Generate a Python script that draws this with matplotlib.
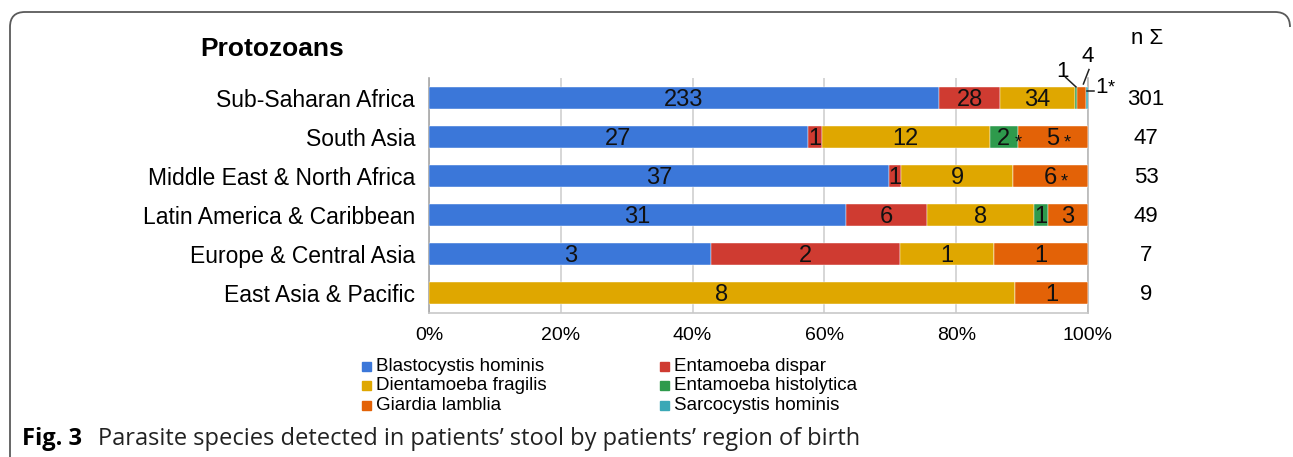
import matplotlib
matplotlib.use("Agg")
import matplotlib.pyplot as plt
import numpy as np
from matplotlib.patches import Rectangle
from matplotlib.path import Path
from matplotlib.patches import PathPatch

plt.rcParams['font.family'] = ['Liberation Sans', 'DejaVu Sans']

regions = ["Sub-Saharan Africa", "South Asia", "Middle East & North Africa",
           "Latin America & Caribbean", "Europe & Central Asia", "East Asia & Pacific"]
species = ["Blastocystis hominis", "Entamoeba dispar", "Dientamoeba fragilis",
           "Entamoeba histolytica", "Giardia lamblia", "Sarcocystis hominis"]
colors = ["#3b77d9", "#cf3b31", "#dfa700", "#2e9a4c", "#e36207", "#3aa8b6"]

blastocystis = [233, 27, 37, 31, 3, 0]
dispar = [28, 1, 1, 6, 2, 0]
fragilis = [34, 12, 9, 8, 1, 8]
histolytica = [1, 2, 0, 1, 0, 0]
giardia = [4, 5, 6, 3, 1, 1]
sarcocystis = [1, 0, 0, 0, 0, 0]
totals = [301, 47, 53, 49, 7, 9]

# which segment labels carry an asterisk (region index, series index)
starred = [(1, 3), (1, 4), (2, 4), (0, 5)]
# segments labelled outside the bar (Sub-Saharan small ones)
outside = [(0, 3), (0, 4), (0, 5)]

xticks = [0, 20, 40, 60, 80, 100]
xticklabels = ["0%", "20%", "40%", "60%", "80%", "100%"]

W, H = 1293, 457
fig = plt.figure(figsize=(W / 100, H / 100), dpi=100)

# overlay for frame, title, legend, caption (pixel coordinates)
ov = fig.add_axes([0, 0, 1, 1], zorder=0)
ov.set_xlim(0, W)
ov.set_ylim(H, 0)
ov.axis("off")

# rounded frame
r = 15
verts = [(10, H + 2), (10, 12 + r), (10, 12), (10 + r, 12), (W - 3 - r, 12),
         (W - 3, 12), (W - 3, 12 + r)]
codes = [Path.MOVETO, Path.LINETO, Path.CURVE3, Path.CURVE3, Path.LINETO,
         Path.CURVE3, Path.CURVE3]
ov.add_patch(PathPatch(Path(verts, codes), fill=False, edgecolor="#5a5a5a", lw=1.3))

series = [blastocystis, dispar, fragilis, histolytica, giardia, sarcocystis]
data = np.array(series, dtype=float)
tot = np.array(totals, dtype=float)
pct = data / tot * 100

ax = fig.add_axes([429 / W, 1 - 313 / H, (1088 - 429) / W, (313 - 78) / H], zorder=2)
ax.patch.set_alpha(0)
y = np.arange(len(regions))
left = np.zeros(len(regions))
for s in range(len(series)):
    ax.barh(y, pct[s], left=left, height=0.565, color=colors[s], zorder=3,
            edgecolor="white", linewidth=0.3)
    for i in range(len(regions)):
        v = series[s][i]
        if v > 0 and (i, s) not in outside:
            cx = left[i] + pct[s][i] / 2
            ax.text(cx, y[i] + 0.04, str(v), ha="center", va="center",
                    fontsize=17, color="#111111", zorder=4)
            if (i, s) in starred:
                ax.annotate("*", xy=(cx, y[i]), xytext=(10, -4),
                            textcoords="offset points", ha="center", va="center",
                            fontsize=13, color="#111111", zorder=4)
    left += pct[s]

ax.set_ylim(len(regions) - 0.487, -0.513)
ax.set_xlim(0, 100)
ax.set_xticks(xticks)
ax.set_xticklabels(xticklabels, fontsize=14)
ax.set_yticks(y)
ax.set_yticklabels(regions, fontsize=16.5)
ax.tick_params(length=0, pad=10)
ax.tick_params(axis="x", pad=10)
ax.xaxis.grid(True, color="#cfcfcf", lw=1.2, zorder=0)
ax.set_axisbelow(True)
ax.spines["top"].set_visible(False)
ax.spines["left"].set_color("#a8a8a8")
ax.spines["right"].set_color("#b8b8b8")
ax.spines["bottom"].set_color("#c8c8c8")
for sp in ["left", "right", "bottom"]:
    ax.spines[sp].set_linewidth(1.2)

# outside labels for Sub-Saharan Africa small segments
cum = np.cumsum(pct[:, 0])
starts = np.concatenate([[0], cum[:-1]])
hist_mid = starts[3] + pct[3][0] / 2
giar_mid = starts[4] + pct[4][0] / 2
ax.text(96.1, -0.69, str(histolytica[0]), ha="center", va="center", fontsize=16)
ax.plot([96.6, hist_mid], [-0.53, -0.285], color="#222222", lw=1.1, clip_on=False, zorder=5)
ax.text(100.0, -1.06, str(giardia[0]), ha="center", va="center", fontsize=16)
ax.plot([100.15, giar_mid + 0.3], [-0.73, -0.36], color="#222222", lw=1.1, clip_on=False, zorder=5)
ax.plot([99.85, 100.9], [-0.18, -0.18], color="#222222", lw=1.1, clip_on=False, zorder=5)
ax.text(102.1, -0.26, str(sarcocystis[0]), ha="center", va="center", fontsize=16)
ax.text(103.5, -0.26, "*", ha="center", va="center", fontsize=13)

# totals column
for i, t in enumerate(totals):
    ax.text(108.8, y[i] + 0.05, str(t), ha="center", va="center", fontsize=16,
            clip_on=False)
ov.text(1147, 38, "n Σ", ha="center", va="center", fontsize=16)

# title
ov.text(272, 49, "Protozoans", ha="center", va="center", fontsize=19, fontweight="bold")

# legend (2 columns, row-major in series order)
for k, (name, c) in enumerate(zip(species, colors)):
    col, row = k % 2, k // 2
    lx = 362 if col == 0 else 660
    ly = 366 + row * 19.5
    ov.add_patch(Rectangle((lx, ly - 4.5), 9, 9, color=c))
    ov.text(lx + 14, ly + 0.5, name, ha="left", va="center", fontsize=13.5)

# caption
ov.text(22, 439, "Fig. 3", ha="left", va="center", fontsize=17, fontweight="bold",
        family="Open Sans")
ov.text(98, 439, "Parasite species detected in patients\u2019 stool by patients\u2019 region of birth",
        ha="left", va="center", fontsize=17, family="Open Sans", color="#222222")

fig.savefig("out.png", dpi=100)
